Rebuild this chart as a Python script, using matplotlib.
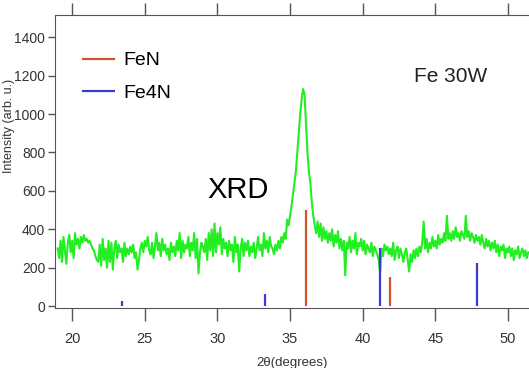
import numpy as np
import matplotlib
matplotlib.use("Agg")
import matplotlib.pyplot as plt

plt.rcParams["font.family"] = ["Liberation Sans", "DejaVu Sans"]

# Measured XRD pattern, 2theta from 19.0 in 0.1 degree steps

two_theta_start = 19.0
two_theta_step = 0.1

intensity = [
    300, 250, 340, 230, 360, 290, 220, 330, 370, 280,   # 19
    340, 250, 380, 320, 350, 300, 360, 330, 370, 340,   # 20
    350, 330, 340, 320, 300, 290, 260, 240, 230, 320,   # 21
    210, 350, 240, 300, 200, 340, 230, 330, 190, 300,   # 22
    340, 250, 320, 280, 300, 230, 330, 260, 300, 270,   # 23
    310, 280, 320, 250, 280, 190, 240, 300, 330, 280,   # 24
    340, 310, 360, 290, 270, 330, 250, 310, 380, 290,   # 25
    330, 260, 350, 290, 320, 270, 300, 240, 330, 280,   # 26
    310, 260, 340, 290, 380, 250, 340, 280, 320, 300,   # 27
    360, 260, 330, 290, 380, 250, 350, 170, 280, 330,   # 28
    310, 280, 350, 240, 380, 290, 400, 260, 430, 280,   # 29
    380, 320, 410, 270, 350, 300, 330, 260, 340, 290,   # 30
    320, 230, 360, 280, 320, 180, 300, 350, 260, 330,   # 31
    290, 340, 260, 310, 280, 330, 250, 300, 360, 290,   # 32
    320, 260, 380, 300, 340, 280, 360, 310, 300, 270,   # 33
    320, 290, 340, 300, 360, 330, 380, 350, 450, 420,   # 34
    470, 520, 580, 640, 700, 800, 900, 1000, 1080, 1130,  # 35
    1100, 950, 800, 700, 640, 540, 470, 420, 380, 440,  # 36
    360, 430, 340, 410, 350, 390, 330, 380, 340, 400,   # 37
    310, 370, 330, 390, 300, 350, 290, 340, 160, 330,   # 38
    300, 360, 280, 340, 300, 380, 270, 330, 310, 350,   # 39
    290, 340, 270, 320, 300, 280, 330, 260, 310, 290,   # 40
    270, 240, 170, 300, 260, 320, 290, 310, 270, 300,   # 41
    260, 330, 240, 290, 310, 250, 300, 270, 230, 280,   # 42
    300, 240, 180, 270, 230, 290, 250, 300, 260, 310,   # 43
    280, 330, 440, 300, 350, 280, 330, 300, 360, 310,   # 44
    340, 300, 370, 320, 350, 330, 380, 340, 470, 350,   # 45
    380, 340, 390, 350, 410, 360, 380, 340, 390, 370,   # 46
    350, 470, 360, 390, 340, 380, 360, 330, 370, 340,   # 47
    360, 320, 370, 330, 300, 350, 310, 340, 290, 330,   # 48
    300, 340, 280, 320, 260, 310, 290, 320, 250, 300,   # 49
    280, 310, 260, 300, 240, 290, 270, 310, 250, 280,   # 50
    300, 260, 290, 250, 280,                            # 51
]

# Reference stick patterns

fen_pos = [36.1, 41.9]
fen_height = [500, 150]

fe4n_pos = [23.4, 33.3, 41.2, 47.9]
fe4n_height = [28, 62, 300, 225]

two_theta = two_theta_start + two_theta_step * np.arange(len(intensity))

fig = plt.figure(figsize=(5.29, 3.68), dpi=100)
ax = fig.add_axes([0.104, 0.163, 0.896, 0.796])

ax.plot(two_theta, intensity, color="#22ee22", lw=1.5, zorder=2)

ax.vlines(fen_pos, 0, fen_height, color="#d2542c", lw=1.6, label="FeN", zorder=3)
ax.vlines(fe4n_pos, 0, fe4n_height, color="#3a3acc", lw=1.6, label="Fe4N", zorder=3)

ax.set_xlim(18.82, 51.45)
ax.set_ylim(-10, 1515)
ax.set_xticks([20, 25, 30, 35, 40, 45, 50])
ax.set_yticks(range(0, 1401, 200))

for side in ["left", "bottom", "top"]:
    ax.spines[side].set_color("#555555")
ax.spines["right"].set_visible(False)

ax.tick_params(axis="x", direction="out", length=9, width=1, color="#555555",
               labelsize=10.5, labelcolor="#333333", top=True, pad=8)
ax.tick_params(axis="y", direction="out", length=5, width=1, color="#555555",
               labelsize=10, labelcolor="#333333", pad=2)

ax.set_xlabel("2θ(degrees)", fontsize=9.5, color="#333333", labelpad=8)
ax.set_ylabel("Intensity (arb. u.)", fontsize=9, color="#333333")
ax.yaxis.set_label_coords(-0.0844, 0.62)

ax.legend(loc="upper left", bbox_to_anchor=(0.057, 0.875), frameon=False,
          fontsize=14, handlelength=1.7, handletextpad=0.45,
          labelspacing=0.75, borderpad=0, borderaxespad=0)

ax.text(43.5, 1195, "Fe 30W", fontsize=15, color="#222222", ha="left", va="center")
ax.text(31.4, 604, "XRD", fontsize=21, color="black", ha="center", va="center")

fig.savefig("out.png", dpi=100)
